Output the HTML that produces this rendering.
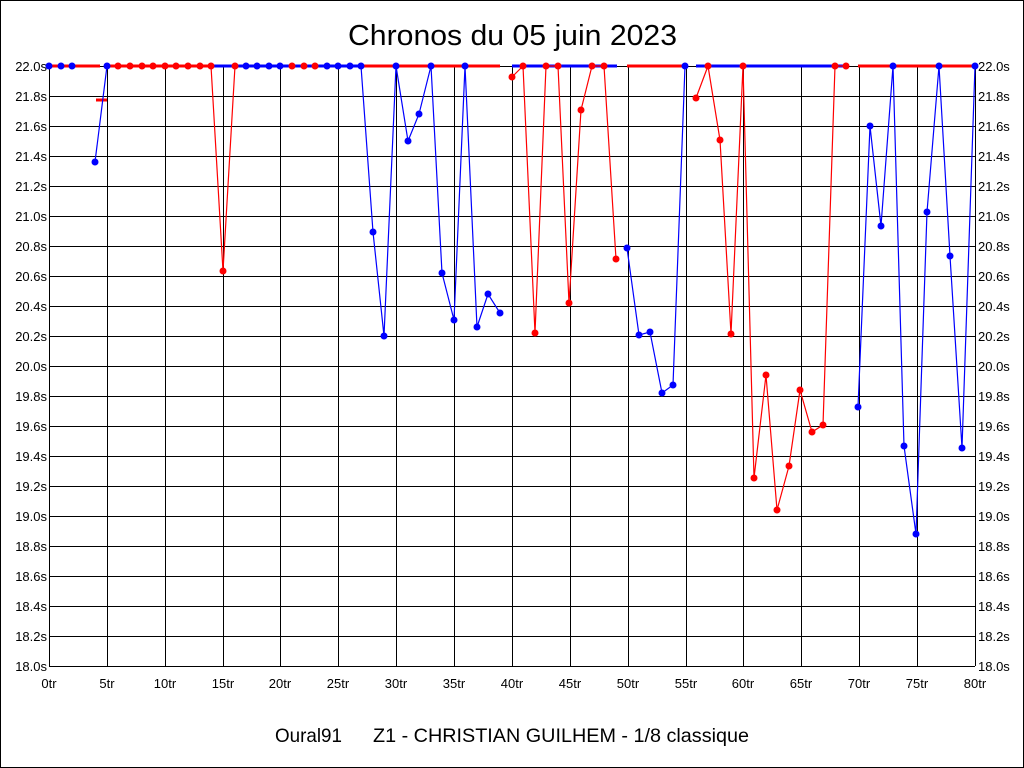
<!DOCTYPE html><html><head><meta charset="utf-8"><style>body{margin:0;background:#fff}svg{display:block}</style></head><body>
<svg width="1024" height="768" xmlns="http://www.w3.org/2000/svg" font-family="Liberation Sans, sans-serif">
<rect x="0.5" y="0.5" width="1023" height="767" fill="#fff" stroke="#000"/>
<text x="348" y="45" font-size="29" textLength="329" lengthAdjust="spacingAndGlyphs">Chronos du 05 juin 2023</text>
<g stroke="#000" stroke-width="1">
<path d="M49 66.5H975M49 96.5H975M49 126.5H975M49 156.5H975M49 186.5H975M49 216.5H975M49 246.5H975M49 276.5H975M49 306.5H975M49 336.5H975M49 366.5H975M49 396.5H975M49 426.5H975M49 456.5H975M49 486.5H975M49 516.5H975M49 546.5H975M49 576.5H975M49 606.5H975M49 636.5H975M49 666.5H975"/>
<path d="M49.5 66V666M107.5 66V666M165.5 66V666M223.5 66V666M280.5 66V666M338.5 66V666M396.5 66V666M454.5 66V666M512.5 66V666M570.5 66V666M628.5 66V666M686.5 66V666M743.5 66V666M801.5 66V666M859.5 66V666M917.5 66V666M975.5 66V666"/>
</g>
<g font-size="13" text-anchor="end">
<text x="47" y="71">22.0s</text><text x="47" y="101">21.8s</text><text x="47" y="131">21.6s</text><text x="47" y="161">21.4s</text><text x="47" y="191">21.2s</text><text x="47" y="221">21.0s</text><text x="47" y="251">20.8s</text><text x="47" y="281">20.6s</text><text x="47" y="311">20.4s</text><text x="47" y="341">20.2s</text><text x="47" y="371">20.0s</text><text x="47" y="401">19.8s</text><text x="47" y="431">19.6s</text><text x="47" y="461">19.4s</text><text x="47" y="491">19.2s</text><text x="47" y="521">19.0s</text><text x="47" y="551">18.8s</text><text x="47" y="581">18.6s</text><text x="47" y="611">18.4s</text><text x="47" y="641">18.2s</text><text x="47" y="671">18.0s</text>
</g>
<g font-size="13" text-anchor="start">
<text x="978" y="71">22.0s</text><text x="978" y="101">21.8s</text><text x="978" y="131">21.6s</text><text x="978" y="161">21.4s</text><text x="978" y="191">21.2s</text><text x="978" y="221">21.0s</text><text x="978" y="251">20.8s</text><text x="978" y="281">20.6s</text><text x="978" y="311">20.4s</text><text x="978" y="341">20.2s</text><text x="978" y="371">20.0s</text><text x="978" y="401">19.8s</text><text x="978" y="431">19.6s</text><text x="978" y="461">19.4s</text><text x="978" y="491">19.2s</text><text x="978" y="521">19.0s</text><text x="978" y="551">18.8s</text><text x="978" y="581">18.6s</text><text x="978" y="611">18.4s</text><text x="978" y="641">18.2s</text><text x="978" y="671">18.0s</text>
</g>
<g font-size="13" text-anchor="middle">
<text x="49" y="688">0tr</text><text x="107" y="688">5tr</text><text x="165" y="688">10tr</text><text x="223" y="688">15tr</text><text x="280" y="688">20tr</text><text x="338" y="688">25tr</text><text x="396" y="688">30tr</text><text x="454" y="688">35tr</text><text x="512" y="688">40tr</text><text x="570" y="688">45tr</text><text x="628" y="688">50tr</text><text x="686" y="688">55tr</text><text x="743" y="688">60tr</text><text x="801" y="688">65tr</text><text x="859" y="688">70tr</text><text x="917" y="688">75tr</text><text x="975" y="688">80tr</text>
</g>
<text x="275" y="742" font-size="19.5" textLength="67" lengthAdjust="spacingAndGlyphs">Oural91</text>
<text x="373" y="742" font-size="19.5" textLength="376" lengthAdjust="spacingAndGlyphs">Z1 - CHRISTIAN GUILHEM - 1/8 classique</text>
<g stroke-width="3" fill="none">
<path stroke="#f00" d="M49 66H100M96 100H107M107 66H211M361 66H500M627 66H685M858 66H975"/>
<path stroke="#00f" d="M211 66H235M235 66H361M512 66H617M696 66H846"/>
</g>
<g fill="none" stroke-width="1.2">
<polyline stroke="#00f" points="95,162 107,66"/>
<polyline stroke="#f00" points="211,66 223,271 235,66"/>
<polyline stroke="#00f" points="361,66 373,232 384,336 396,66 408,141 419,114 431,66 442,273 454,320 465,66 477,327 488,294 500,313"/>
<polyline stroke="#f00" points="512,77 523,66 535,333 546,66 558,66 569,303 581,110 592,66 604,66 616,259"/>
<polyline stroke="#00f" points="627,248 639,335 650,332 662,393 673,385 685,66"/>
<polyline stroke="#f00" points="696,98 708,66 720,140 731,334 743,66 754,478 766,375 777,510 789,466 800,390 812,432 823,425 835,66 846,66"/>
<polyline stroke="#00f" points="858,407 870,126 881,226 893,66 904,446 916,534 927,212 939,66 950,256 962,448 975,66"/>
</g>
<g fill="#00f">
<circle cx="49" cy="66" r="3.5"/><circle cx="61" cy="66" r="3.5"/><circle cx="72" cy="66" r="3.5"/><circle cx="95" cy="162" r="3.5"/><circle cx="107" cy="66" r="3.5"/>
<circle cx="246" cy="66" r="3.5"/><circle cx="257" cy="66" r="3.5"/><circle cx="269" cy="66" r="3.5"/><circle cx="280" cy="66" r="3.5"/><circle cx="327" cy="66" r="3.5"/><circle cx="338" cy="66" r="3.5"/><circle cx="350" cy="66" r="3.5"/><circle cx="361" cy="66" r="3.5"/>
<circle cx="373" cy="232" r="3.5"/><circle cx="384" cy="336" r="3.5"/><circle cx="396" cy="66" r="3.5"/><circle cx="408" cy="141" r="3.5"/><circle cx="419" cy="114" r="3.5"/><circle cx="431" cy="66" r="3.5"/><circle cx="442" cy="273" r="3.5"/><circle cx="454" cy="320" r="3.5"/><circle cx="465" cy="66" r="3.5"/><circle cx="477" cy="327" r="3.5"/><circle cx="488" cy="294" r="3.5"/><circle cx="500" cy="313" r="3.5"/>
<circle cx="627" cy="248" r="3.5"/><circle cx="639" cy="335" r="3.5"/><circle cx="650" cy="332" r="3.5"/><circle cx="662" cy="393" r="3.5"/><circle cx="673" cy="385" r="3.5"/><circle cx="685" cy="66" r="3.5"/>
<circle cx="858" cy="407" r="3.5"/><circle cx="870" cy="126" r="3.5"/><circle cx="881" cy="226" r="3.5"/><circle cx="893" cy="66" r="3.5"/><circle cx="904" cy="446" r="3.5"/><circle cx="916" cy="534" r="3.5"/><circle cx="927" cy="212" r="3.5"/><circle cx="939" cy="66" r="3.5"/><circle cx="950" cy="256" r="3.5"/><circle cx="962" cy="448" r="3.5"/><circle cx="975" cy="66" r="3.5"/>
</g>
<g fill="#f00">
<circle cx="118" cy="66" r="3.5"/><circle cx="130" cy="66" r="3.5"/><circle cx="142" cy="66" r="3.5"/><circle cx="153" cy="66" r="3.5"/><circle cx="165" cy="66" r="3.5"/><circle cx="176" cy="66" r="3.5"/><circle cx="188" cy="66" r="3.5"/><circle cx="200" cy="66" r="3.5"/><circle cx="211" cy="66" r="3.5"/><circle cx="223" cy="271" r="3.5"/><circle cx="235" cy="66" r="3.5"/>
<circle cx="292" cy="66" r="3.5"/><circle cx="304" cy="66" r="3.5"/><circle cx="315" cy="66" r="3.5"/>
<circle cx="512" cy="77" r="3.5"/><circle cx="523" cy="66" r="3.5"/><circle cx="535" cy="333" r="3.5"/><circle cx="546" cy="66" r="3.5"/><circle cx="558" cy="66" r="3.5"/><circle cx="569" cy="303" r="3.5"/><circle cx="581" cy="110" r="3.5"/><circle cx="592" cy="66" r="3.5"/><circle cx="604" cy="66" r="3.5"/><circle cx="616" cy="259" r="3.5"/>
<circle cx="696" cy="98" r="3.5"/><circle cx="708" cy="66" r="3.5"/><circle cx="720" cy="140" r="3.5"/><circle cx="731" cy="334" r="3.5"/><circle cx="743" cy="66" r="3.5"/><circle cx="754" cy="478" r="3.5"/><circle cx="766" cy="375" r="3.5"/><circle cx="777" cy="510" r="3.5"/><circle cx="789" cy="466" r="3.5"/><circle cx="800" cy="390" r="3.5"/><circle cx="812" cy="432" r="3.5"/><circle cx="823" cy="425" r="3.5"/><circle cx="835" cy="66" r="3.5"/><circle cx="846" cy="66" r="3.5"/>
</g>
</svg>
</body></html>
